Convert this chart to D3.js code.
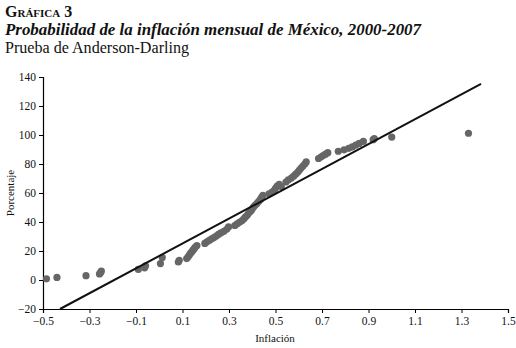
<!DOCTYPE html>
<html>
<head>
<meta charset="utf-8">
<script src="https://cdn.jsdelivr.net/npm/d3@7"></script>
<style>
body{margin:0;background:#fff;}
svg{display:block;}
text{font-family:"Liberation Serif","DejaVu Serif",serif;fill:#111;}
</style>
</head>
<body>
<svg id="chart" width="516" height="348"></svg>
<script>
// Data
const inflacion = [-0.485,-0.44,-0.315,-0.257,-0.252,-0.249,-0.09,-0.063,-0.059,0.005,0.013,0.082,0.086,0.118,0.125,0.13,0.135,0.14,0.145,0.15,0.155,0.162,0.196,0.205,0.215,0.225,0.235,0.245,0.255,0.265,0.278,0.29,0.298,0.325,0.335,0.345,0.355,0.363,0.37,0.378,0.384,0.392,0.398,0.405,0.412,0.42,0.428,0.435,0.44,0.446,0.472,0.485,0.495,0.5,0.507,0.516,0.525,0.545,0.555,0.568,0.578,0.587,0.596,0.603,0.61,0.618,0.626,0.632,0.685,0.695,0.705,0.715,0.725,0.77,0.795,0.815,0.83,0.845,0.86,0.878,0.92,0.925,1.0,1.33];
const porcentaje = [0.8,1.8,3.0,4.2,5.2,6.2,7.3,8.4,9.8,11.3,15.5,12.4,13.6,14.8,16.2,17.4,18.5,19.5,20.6,21.6,22.7,23.8,25.2,26.3,27.3,28.3,29.3,30.3,31.4,32.5,33.6,35.0,36.6,37.6,38.8,39.8,40.8,42.0,43.3,44.6,46.0,47.3,48.5,50.2,51.5,52.8,54.3,55.6,57.0,58.4,59.5,60.6,61.8,63.2,64.8,66.0,64.4,67.6,69.0,70.3,71.6,73.0,74.4,75.8,77.2,78.6,80.0,81.4,83.8,84.8,85.8,86.8,87.8,88.8,89.8,90.8,91.8,93.0,94.2,95.6,96.8,97.6,98.6,101.2];
const lineaX = [-0.427, 1.384];
const lineaY = [-20, 135.2];
const xTicks = [-0.5,-0.3,-0.1,0.1,0.3,0.5,0.7,0.9,1.1,1.3,1.5];
const yTicks = [-20,0,20,40,60,80,100,120,140];

const svg = d3.select("#chart");
const x = d3.scaleLinear().domain([-0.5,1.5]).range([43,508]);
const y = d3.scaleLinear().domain([-20,140]).range([309,77]);

// Titles
svg.append("text").attr("x",5).attr("y",17)
  .style("font-size","16px").style("font-variant","small-caps").style("font-weight","bold")
  .text("Gráfica 3");
svg.append("text").attr("x",5).attr("y",35)
  .style("font-size","16px").style("font-style","italic").style("font-weight","bold")
  .attr("textLength",416).attr("lengthAdjust","spacingAndGlyphs")
  .text("Probabilidad de la inflación mensual de México, 2000-2007");
svg.append("text").attr("x",5).attr("y",53)
  .style("font-size","16px")
  .attr("textLength",184).attr("lengthAdjust","spacingAndGlyphs")
  .text("Prueba de Anderson-Darling");

// Axes
const fmt = d => d3.format(".1f")(d).replace("-","−");
const xAxis = svg.append("g").attr("transform","translate(0,309)")
  .call(d3.axisBottom(x).tickValues(xTicks).tickSize(4).tickPadding(4).tickFormat(fmt));
const yAxis = svg.append("g").attr("transform","translate(43,0)")
  .call(d3.axisLeft(y).tickValues(yTicks).tickSize(4).tickPadding(3).tickFormat(d=>String(d).replace("-","−")));
[xAxis,yAxis].forEach(a=>{
  a.selectAll("path").attr("stroke","#000").attr("stroke-width",1.2);
  a.selectAll("line").attr("stroke","#000");
  a.selectAll("text").style("font-family","'Liberation Serif',serif").style("font-size","11.5px").attr("fill","#111");
});

svg.append("text").attr("x",275).attr("y",342).attr("text-anchor","middle")
  .style("font-size","11px").text("Inflación");
svg.append("text").attr("transform","translate(14,193) rotate(-90)").attr("text-anchor","middle")
  .style("font-size","11px").text("Porcentaje");

// Points
const pts = inflacion.map((v,i)=>({x:v,y:porcentaje[i]}));
svg.append("g").selectAll("circle").data(pts).join("circle")
  .attr("cx",d=>x(d.x)).attr("cy",d=>y(d.y)).attr("r",3.6).attr("fill","#666");

// Fitted line
svg.append("line")
  .attr("x1",x(lineaX[0])).attr("y1",y(lineaY[0]))
  .attr("x2",x(lineaX[1])).attr("y2",y(lineaY[1]))
  .attr("stroke","#111").attr("stroke-width",2);
</script>
</body>
</html>
